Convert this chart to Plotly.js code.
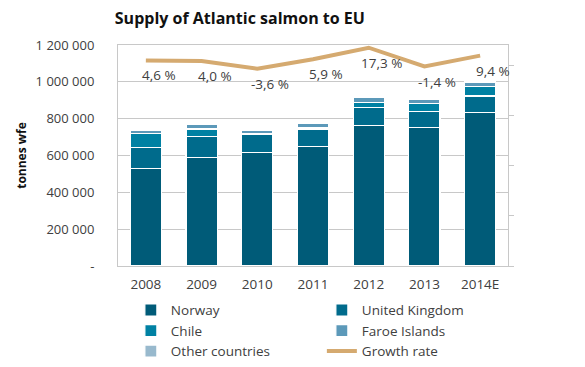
<!DOCTYPE html>
<html>
<head>
<meta charset="utf-8">
<script src="https://cdn.plot.ly/plotly-3.0.1.min.js"></script>
<style>
  html, body { margin: 0; padding: 0; background: #ffffff; }
  #chart { width: 585px; height: 367px; }
</style>
</head>
<body>
<div id="chart"></div>
<script>
// ---- data ----
var years = ["2008", "2009", "2010", "2011", "2012", "2013", "2014E"];
var norway = [530000, 590000, 615000, 648000, 762000, 753000, 832000];
var unitedKingdom = [114000, 112000, 98000, 96000, 100000, 85000, 91000];
var chile = [76000, 42000, 6000, 8000, 27000, 43000, 50000];
var faroeIslands = [19000, 24000, 18000, 24000, 25000, 24000, 25000];
var otherCountries = [4000, 4000, 5000, 7000, 5000, 5000, 2000];
var growthRate = [4.6, 4.0, -3.6, 5.9, 17.3, -1.4, 9.4];
var yTickVals = [0, 200000, 400000, 600000, 800000, 1000000, 1200000];
var yTickText = ["-", "200 000", "400 000", "600 000", "800 000", "1 000 000", "1 200 000"];

var FONT = "Open Sans, Liberation Sans, sans-serif";
var TXT = "#404040";
var GRID = "#c8c8c8";

function barTrace(name, vals, color) {
  return {
    type: "bar", name: name, x: years, y: vals,
    marker: { color: color, line: { color: "#ffffff", width: 1.2 } },
    hoverinfo: "skip"
  };
}

var traces = [
  barTrace("Norway", norway, "#005b78"),
  barTrace("United Kingdom", unitedKingdom, "#006b8c"),
  barTrace("Chile", chile, "#0081a3"),
  barTrace("Faroe Islands", faroeIslands, "#5c99b9"),
  barTrace("Other countries", otherCountries, "#98b9cd"),
  {
    type: "scatter", mode: "lines", name: "Growth rate",
    x: years, y: growthRate, yaxis: "y2",
    line: { color: "#d5aa70", width: 4 },
    hoverinfo: "skip"
  }
];

// growth-rate labels: x given as category index so numeric-looking years are not misread
var annotations = growthRate.map(function (g, i) {
  return {
    x: i, y: g, xref: "x", yref: "y2",
    text: g.toFixed(1).replace(".", ",") + " %",
    showarrow: false, xshift: 13, yshift: -15,
    font: { family: FONT, size: 13.5, color: TXT }
  };
});

var layout = {
  width: 585, height: 367,
  margin: { l: 118, r: 77, t: 45, b: 101, autoexpand: false },
  paper_bgcolor: "#ffffff", plot_bgcolor: "#ffffff",
  barmode: "stack", bargap: 0.44,
  showlegend: true,
  title: {
    text: "<b>Supply of Atlantic salmon to EU</b>",
    font: { family: FONT, size: 16, color: "#111111" },
    xref: "container", yref: "container",
    x: 0.41, xanchor: "center", y: 0.951, yanchor: "middle"
  },
  xaxis: {
    type: "category",
    range: [-0.5, 6.5],
    showline: true, linecolor: GRID, linewidth: 1, mirror: true,
    showgrid: false, ticks: "",
    ticklabelstandoff: 6,
    tickfont: { family: FONT, size: 13.5, color: TXT },
    fixedrange: true
  },
  yaxis: {
    range: [0, 1200000],
    tickvals: yTickVals, ticktext: yTickText,
    showline: true, linecolor: GRID, linewidth: 1,
    showgrid: true, gridcolor: GRID, gridwidth: 1,
    zeroline: false, ticks: "",
    ticklabelstandoff: 20,
    tickfont: { family: FONT, size: 13, color: TXT },
    title: {
      text: "<b>tonnes wfe</b>",
      font: { family: FONT, size: 12, color: "#111111" },
      standoff: 6
    },
    fixedrange: true
  },
  yaxis2: {
    overlaying: "y", side: "right",
    range: [-200, 20],
    tickvals: [-200, -150, -100, -50, 0],
    showticklabels: false,
    showgrid: false, zeroline: false,
    showline: true, linecolor: GRID, linewidth: 1,
    ticks: "outside", ticklen: 5, tickcolor: GRID,
    fixedrange: true
  },
  legend: {
    orientation: "h",
    x: 0.033, xanchor: "left",
    y: -0.13, yanchor: "top",
    entrywidth: 146, entrywidthmode: "pixels",
    traceorder: "normal",
    tracegroupgap: 0,
    font: { family: FONT, size: 13.5, color: TXT },
    bgcolor: "rgba(0,0,0,0)"
  },
  annotations: annotations
};

Plotly.newPlot("chart", traces, layout, { displayModeBar: false, staticPlot: true });
</script>
</body>
</html>
